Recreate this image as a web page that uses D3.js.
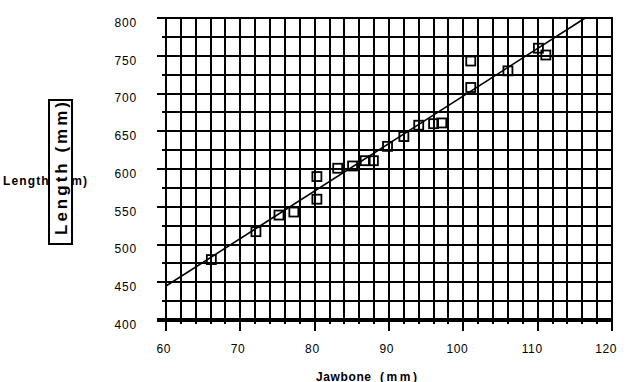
<!DOCTYPE html>
<html><head><meta charset="utf-8">
<script src="https://cdn.jsdelivr.net/npm/d3@7"></script>
<style>
html,body{margin:0;padding:0;background:#fff;}
svg{display:block;}
text{font-family:"Liberation Sans",Arial,sans-serif;fill:#000;}
</style></head><body>
<svg id="chart" width="632" height="382"></svg>
<script>
const jawbone  = [66.1, 72.1, 75.2, 77.2, 80.3, 80.3, 83.1, 85.1, 86.8, 87.9, 89.8, 92.0, 94.0, 96.0, 97.1, 101.0, 101.0, 106.0, 110.1, 111.1];
const lengthMm = [480, 517, 539, 543, 560, 590, 601, 604, 611, 611, 630, 643, 658, 660, 661, 743, 708, 730, 760, 751];
const trendX = [60, 116.4];
const trendY = [445, 800];
const xTickLabels = [60, 70, 80, 90, 100, 110, 120];
const yTickLabels = [400, 450, 500, 550, 600, 650, 700, 750, 800];
const xGridStep = 2;
const yGridStep = 25;
const xTitleParts = ["Jawbone", "(mm)"];
const yTitle = "Length (mm)";

const svg = d3.select("#chart");
const x = d3.scaleLinear().domain([60, 120]).range([166, 612]);
const y = d3.scaleLinear().domain([400, 800]).range([320, 18]);

const xGrid = d3.range(60, 120.001, xGridStep);
const yGrid = d3.range(400, 800.001, yGridStep);

const grid = svg.append("g").attr("stroke", "#000").attr("shape-rendering", "crispEdges");
// vertical grid lines + bottom ticks
grid.selectAll("line.v").data(xGrid).join("line")
  .attr("class", "v")
  .attr("x1", d => x(d)).attr("x2", d => x(d))
  .attr("y1", y(800) - 1)
  .attr("y2", d => y(400) + (d % 10 === 0 ? 11 : 4))
  .attr("stroke-width", 2);
// horizontal grid lines + left ticks
grid.selectAll("line.h").data(yGrid).join("line")
  .attr("class", "h")
  .attr("y1", d => y(d)).attr("y2", d => y(d))
  .attr("x1", d => d % 50 === 0 ? 157 : 162)
  .attr("x2", x(120) + 1)
  .attr("stroke-width", d => d === 400 ? 4 : 2);

// tick labels via d3 axes
const yAxis = d3.axisLeft(y).tickValues(yTickLabels).tickSize(0).tickPadding(29).tickFormat(d3.format("d"));
const gy = svg.append("g").attr("transform", "translate(166,4.5)").call(yAxis);
gy.select(".domain").remove();
gy.selectAll("text").attr("font-size", 12).attr("letter-spacing", "0.8px")
  .attr("font-family", '"Liberation Sans",Arial,sans-serif');

const xAxis = d3.axisBottom(x).tickValues(xTickLabels).tickSize(0).tickPadding(0).tickFormat(d3.format("d"));
const gx = svg.append("g").attr("transform", "translate(0,0)").call(xAxis);
gx.select(".domain").remove();
gx.selectAll("text").attr("font-size", 12).attr("letter-spacing", "0.6px")
  .attr("font-family", '"Liberation Sans",Arial,sans-serif')
  .attr("text-anchor", "end").attr("x", 4.5).attr("y", 353).attr("dy", null);

// trend line
const trend = trendX.map((v, i) => [v, trendY[i]]);
svg.append("path")
  .attr("d", d3.line().x(d => x(d[0])).y(d => y(d[1]))(trend))
  .attr("fill", "none").attr("stroke", "#000").attr("stroke-width", 1.6);

// points
svg.append("g").selectAll("rect").data(jawbone.map((v, i) => [v, lengthMm[i]])).join("rect")
  .attr("x", d => x(d[0]) - 4.5).attr("y", d => y(d[1]) - 4.5)
  .attr("width", 9).attr("height", 9)
  .attr("fill", "none").attr("stroke", "#000").attr("stroke-width", 1.8);

// x title
const xt = svg.append("text").attr("font-weight", "bold").attr("font-size", 12).attr("y", 380.5);
xt.append("tspan").attr("x", 316).attr("textLength", 55).attr("lengthAdjust", "spacing").text(xTitleParts[0]);
xt.append("tspan").attr("x", 380).attr("textLength", 37).attr("lengthAdjust", "spacing").text(xTitleParts[1]);

// y title (horizontal, partially hidden) + boxed rotated label
svg.append("text").attr("x", 3).attr("y", 185).attr("font-weight", "bold").attr("font-size", 12)
  .attr("textLength", 84).attr("lengthAdjust", "spacing").text(yTitle);
svg.append("rect").attr("x", 49).attr("y", 100).attr("width", 23).attr("height", 144)
  .attr("fill", "#fff").attr("stroke", "#000").attr("stroke-width", 2);
svg.append("text").attr("transform", "translate(66.5,168.5) rotate(-90)")
  .attr("text-anchor", "middle").attr("font-weight", "bold").attr("font-size", 17)
  .attr("textLength", 133).attr("lengthAdjust", "spacing").text(yTitle);
</script>
</body></html>
